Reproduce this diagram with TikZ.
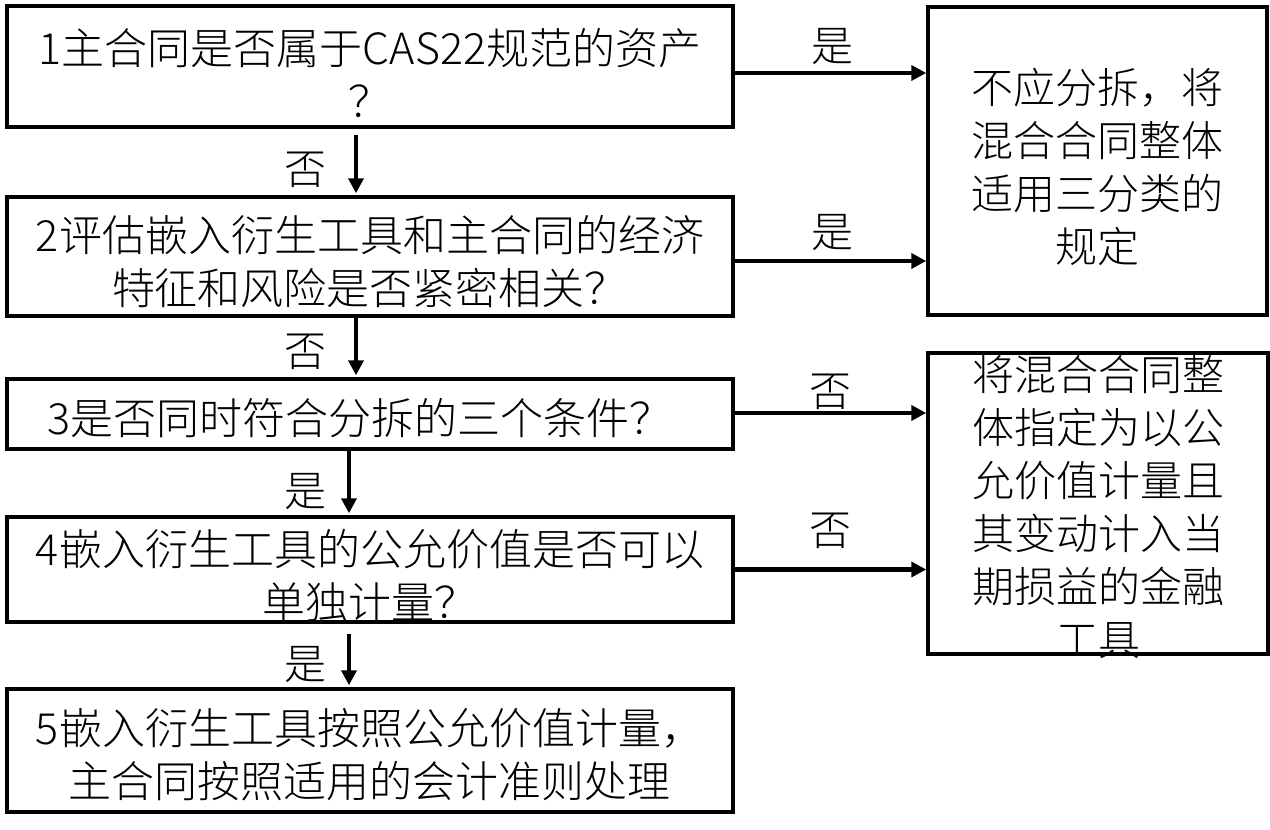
\documentclass[tikz,border=0pt]{standalone}
\usepackage{fontspec}
\setmainfont{Noto Sans CJK SC Light}
\usetikzlibrary{arrows.meta,calc}
\begin{document}
\begin{tikzpicture}[x=1pt,y=-1pt,
  box/.style={draw, line width=3.5pt, rectangle, inner sep=0pt},
  txt/.style={align=center, font=\fontsize{43}{53}\selectfont, inner sep=0pt},
  rtxt/.style={align=center, font=\fontsize{42}{53}\selectfont, inner sep=0pt},
  lbl/.style={font=\fontsize{42}{50}\selectfont, inner sep=0pt},
  arr/.style={line width=4.5pt, -{Triangle[length=15pt,width=15pt]}}]
\useasboundingbox[fill=white] (0,0) rectangle (1270,830);

% left boxes
\node[box, minimum width=726pt, minimum height=121pt] (b1) at (370,66.5) {};
\node[box, minimum width=726pt, minimum height=119pt] (b2) at (370,256.5) {};
\node[box, minimum width=726pt, minimum height=70pt] (b3) at (370,414) {};
\node[box, minimum width=726pt, minimum height=105pt] (b4) at (370,569.5) {};
\node[box, minimum width=726pt, minimum height=123pt] (b5) at (370,750.5) {};
% right boxes
\node[box, minimum width=339pt, minimum height=308pt] (A) at (1097.5,161) {};
\node[box, minimum width=340pt, minimum height=301pt] (B) at (1098,503.5) {};

% texts
\node[txt] (t1) at (370,73) {1主合同是否属于CAS22规范的资产\\？};
\node[txt] (t2) at (370,262) {2评估嵌入衍生工具和主合同的经济\\特征和风险是否紧密相关？};
\node[txt] (t3) at (360,418) {3是否同时符合分拆的三个条件？};
\node[txt] (t4) at (370,576) {4嵌入衍生工具的公允价值是否可以\\单独计量？};
\node[txt] (t5) at (370,755) {5嵌入衍生工具按照公允价值计量，\\主合同按照适用的会计准则处理};
\node[rtxt] (tA) at (1097.5,166.5) {不应分拆，将\\混合合同整体\\适用三分类的\\规定};
\begin{scope}
  \clip ([yshift=-4pt]B.north west) rectangle (1270,830);
  \node[rtxt] (tB) at (1098,507) {将混合合同整\\体指定为以公\\允价值计量且\\其变动计入当\\期损益的金融\\工具};
\end{scope}

% horizontal connectors
\draw[arr] ([yshift=-6.5pt]b1.east) -- node[lbl, pos=0.51, yshift=26pt]{是} ([yshift=-6.5pt]b1.east -| A.west);
\draw[arr] ([yshift=-4.5pt]b2.east) -- node[lbl, pos=0.51, yshift=28pt]{是} ([yshift=-4.5pt]b2.east -| A.west);
\draw[arr] ([yshift=1pt]b3.east) -- node[lbl, pos=0.5, yshift=21pt]{否} ([yshift=1pt]b3.east -| B.west);
\draw[arr] (b4.east) -- node[lbl, pos=0.5, yshift=39pt]{否} (b4.east -| B.west);

% vertical connectors
\draw[arr] ([xshift=-14pt,yshift=-6pt]b1.south) -- node[lbl, pos=0.6, xshift=-51pt]{否} ([xshift=-14pt,yshift=2pt]b2.north);
\draw[arr] ([xshift=-14pt]b2.south) -- node[lbl, pos=0.59, xshift=-51pt]{否} ([xshift=-14pt,yshift=2pt]b3.north);
\draw[arr] ([xshift=-21pt]b3.south) -- node[lbl, pos=0.65, xshift=-44pt]{是} ([xshift=-21pt,yshift=2pt]b4.north);
\draw[arr] ([xshift=-21pt,yshift=-10pt]b4.south) -- node[lbl, pos=0.6, xshift=-44pt]{是} ([xshift=-21pt,yshift=2pt]b5.north);
\end{tikzpicture}
\end{document}
